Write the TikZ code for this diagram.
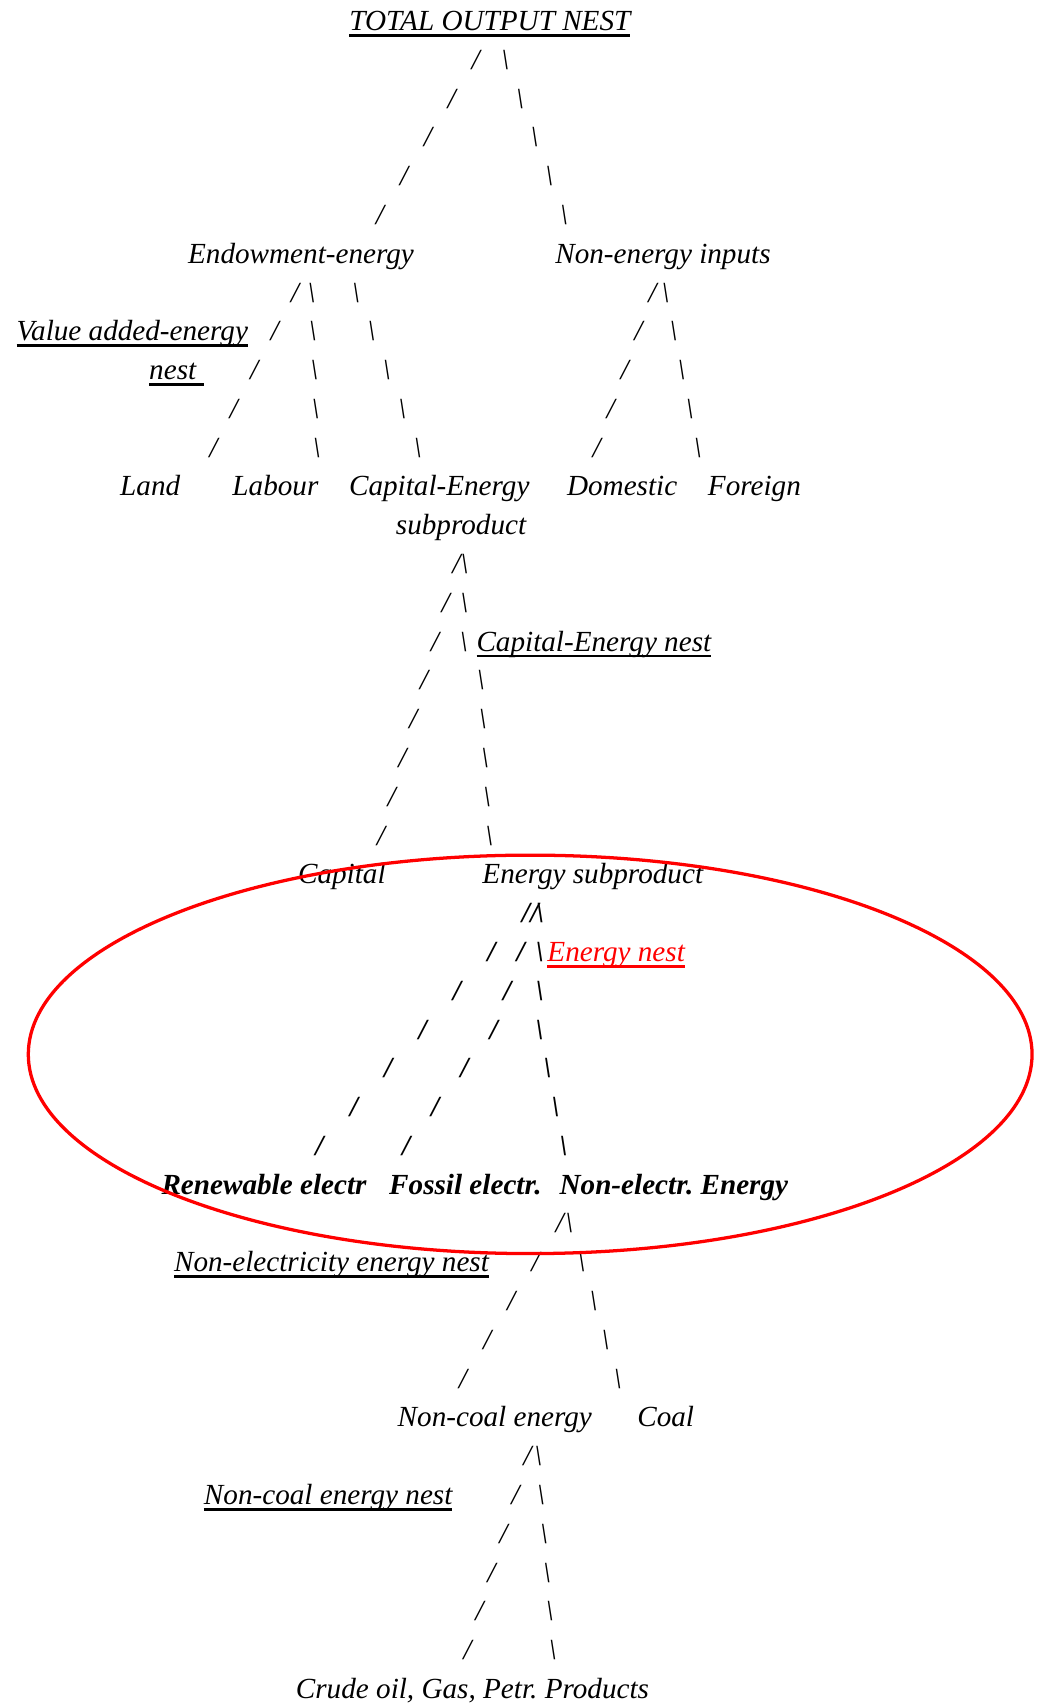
\documentclass[tikz,border=0pt]{standalone}
\usepackage{fontspec}
\setmainfont{Liberation Serif}
\usepackage{xcolor}
\usepackage{tikz}
\frenchspacing

% underline at a fixed depth, as the word processor draws it
\newsavebox{\nestbox}
\newcommand{\nestline}[1]{\sbox{\nestbox}{#1}\rlap{\vrule height -1.7pt depth 2.9pt width \wd\nestbox}\usebox{\nestbox}}

% a branch of slash glyphs, one per text row, between two points
% [style]{glyph}{from}{to}{rows}{number of rows from -> to}
\newcommand{\branch}[6][slash]{%
  \foreach \i in {#5}{%
    \pgfmathsetmacro\bpos{\i/#6}%
    \path #3 -- #4 node[#1, pos=\bpos] {#2};}}

\begin{document}
\begin{tikzpicture}[
  x=0.5pt, y=-0.5pt,
  lbl/.style={font=\fontsize{13.4}{16}\selectfont\itshape, inner sep=0pt, anchor=base},
  blbl/.style={lbl, font=\fontsize{13.4}{16}\selectfont\bfseries\itshape},
  slash/.style={lbl},
  bslash/.style={blbl}
]
  \useasboundingbox (0,0) rectangle (960,1568);

  % top level
  \node[lbl] (total) at (450,28) {\nestline{TOTAL OUTPUT NEST}};
  \node[lbl] (endow) at (276.5,241.8) {Endowment-energy};
  \node[lbl] (nonen) at (609,241.8) {Non-energy inputs};

  % value added-energy nest
  \node[lbl] (vae) at (121.5,313) {\nestline{Value added-energy}};
  \node[lbl] (vaenest) at (162,348.7) {\nestline{nest\ }};
  \node[lbl] (land) at (138,455.6) {Land};
  \node[lbl] (labour) at (253,455.6) {Labour};
  \node[lbl] (capen) at (403.5,455.6) {Capital-Energy};
  \node[lbl] (capensub) at (423.5,491.2) {subproduct};
  \node[lbl] (dom) at (571.5,455.6) {Domestic};
  \node[lbl] (forgn) at (693,455.6) {Foreign};

  % capital-energy nest
  \node[lbl] (cenest) at (545.5,598.1) {\nestline{Capital-Energy nest}};
  \node[lbl] (capital) at (314,811.9) {Capital};
  \node[lbl] (esub) at (544.5,811.9) {Energy subproduct};

  % energy nest
  \node[lbl, text=red] (enest) at (566,883.1) {\nestline{Energy nest}};
  \node[blbl] (renew) at (242.5,1096.9) {Renewable electr};
  \node[blbl] (fossil) at (427.5,1096.9) {Fossil electr.};
  \node[blbl] (nonel) at (619,1096.9) {Non-electr. Energy};

  % non-electricity and non-coal nests
  \node[lbl] (nenest) at (304.5,1168.2) {\nestline{Non-electricity energy nest}};
  \node[lbl] (noncoal) at (454.5,1310.7) {Non-coal energy};
  \node[lbl] (coal) at (611.5,1310.7) {Coal};
  \node[lbl] (ncnest) at (301.5,1382) {\nestline{Non-coal energy nest}};
  \node[lbl] (crude) at (434,1560.1) {Crude oil, Gas, Petr. Products};

  \coordinate (cemida) at (426,598.1);
  \coordinate (cemidb) at (439.5,598.1);
  \coordinate (fosmid) at (453.4,954.4);
  \coordinate (nemid) at (495.5,954.4);

  % branches
  \branch{/}{([shift={(9,0)}]total.base)}{([shift={(50.5,0)}]endow.base)}{1,...,5}{6}
  \branch{\textbackslash}{([shift={(0.5,0)}]total.base)}{([shift={(-77.5,0)}]nonen.base)}{1,...,5}{6}

  \branch{/}{([shift={(13.25,0)}]endow.base)}{([shift={(39.25,0)}]land.base)}{1,...,5}{6}
  \branch{\textbackslash}{([shift={(8.25,0)}]endow.base)}{([shift={(39.25,0)}]labour.base)}{1,...,5}{6}
  \branch{\textbackslash}{([shift={(36.2,0)}]endow.base)}{([shift={(-5.6,0)}]capen.base)}{1,...,5}{6}
  \branch{/}{([shift={(3,0)}]nonen.base)}{([shift={(-36.1,0)}]dom.base)}{1,...,5}{6}
  \branch{\textbackslash}{([shift={(-5.2,0)}]nonen.base)}{([shift={(-44.8,0)}]forgn.base)}{1,...,5}{6}

  \branch{/}{([shift={(5.6,0)}]capensub.base)}{([shift={(26,0)}]capital.base)}{1,...,8}{9}
  \branch{\textbackslash}{([shift={(3.5,0)}]capensub.base)}{(cemida)}{1,2,3}{3}
  \branch{\textbackslash}{(cemidb)}{([shift={(-93.2,0)}]esub.base)}{1,...,5}{6}

  \branch[bslash]{/}{([shift={(-29.9,0)}]esub.base)}{([shift={(19.3,0)}]renew.base)}{1,...,7}{8}
  \branch[bslash]{/}{([shift={(-41.2,0)}]esub.base)}{(fosmid)}{1,2,3}{4}
  \branch[bslash]{/}{(fosmid)}{([shift={(-81.2,0)}]fossil.base)}{0,1,2,3}{4}
  \branch[bslash]{\textbackslash}{([shift={(-48.5,0)}]esub.base)}{(nemid)}{1,2,3}{4}
  \branch[bslash]{\textbackslash}{(nemid)}{([shift={(-94,0)}]nonel.base)}{0,1,2,3}{4}

  \branch{/}{([shift={(-82.8,0)}]nonel.base)}{([shift={(-51.5,0)}]noncoal.base)}{1,...,5}{6}
  \branch{\textbackslash}{([shift={(-107.3,0)}]nonel.base)}{([shift={(-33,0)}]coal.base)}{1,...,5}{6}

  \branch{/}{([shift={(41.1,0)}]noncoal.base)}{([shift={(-15.7,0)}]crude.base)}{1,...,6}{7}
  \branch{\textbackslash}{([shift={(37.1,0)}]noncoal.base)}{([shift={(76.3,0)}]crude.base)}{1,...,6}{7}

  % ring round the energy nest
  \draw[red, line width=1.5pt] (487,968.5) ellipse [x radius=461, y radius=183];
\end{tikzpicture}
\end{document}
